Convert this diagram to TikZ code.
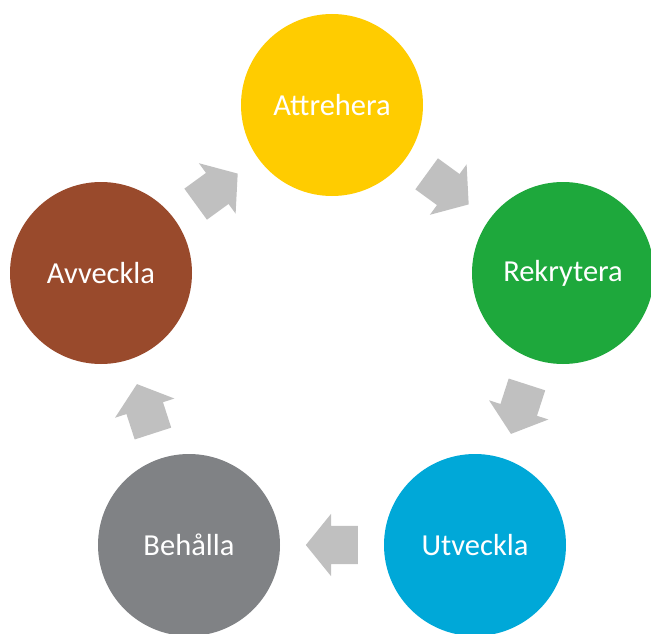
\documentclass[tikz,border=0pt]{standalone}
\usepackage{fontspec}
\setmainfont{Carlito}
\usetikzlibrary{shapes.arrows}
\definecolor{cyellow}{HTML}{FFCC00}
\definecolor{cgreen}{HTML}{1EA83C}
\definecolor{cblue}{HTML}{00A8D8}
\definecolor{cgray}{HTML}{808285}
\definecolor{cbrown}{HTML}{994A2C}
\definecolor{arrowgray}{HTML}{C0C0C0}
\tikzset{
  stage/.style={circle, minimum size=182pt, inner sep=0pt, draw=none, fill=#1,
    text=white, font=\fontsize{30.5}{36}\selectfont},
  cyc/.style={single arrow, fill=arrowgray, draw=none, inner xsep=0pt, inner ysep=19pt,
    single arrow head extend=12pt, single arrow tip angle=102,
    minimum height=52pt, minimum width=0pt, sloped, allow upside down,
    anchor=tail, pos=0.409}
}
\begin{document}
\begin{tikzpicture}[x=1pt, y=-1pt]
\useasboundingbox (0,0) rectangle (651,634);
\node[stage=cyellow] (a) at (332,105) {Attrehera};
\node[stage=cgreen]  (r) at (563,273) {Rekrytera};
\node[stage=cblue]   (u) at (475,545) {Utveckla};
\node[stage=cgray]   (b) at (189,545) {Behålla};
\node[stage=cbrown]  (v) at (101,273) {Avveckla};
\path (v.center) -- node[cyc] (ar1) {} (a.center);
\path (a.center) -- node[cyc] (ar2) {} (r.center);
\path (r.center) -- node[cyc] (ar3) {} (u.center);
\path (u.center) -- node[cyc] (ar4) {} (b.center);
\path (b.center) -- node[cyc] (ar5) {} (v.center);
\end{tikzpicture}
\end{document}
